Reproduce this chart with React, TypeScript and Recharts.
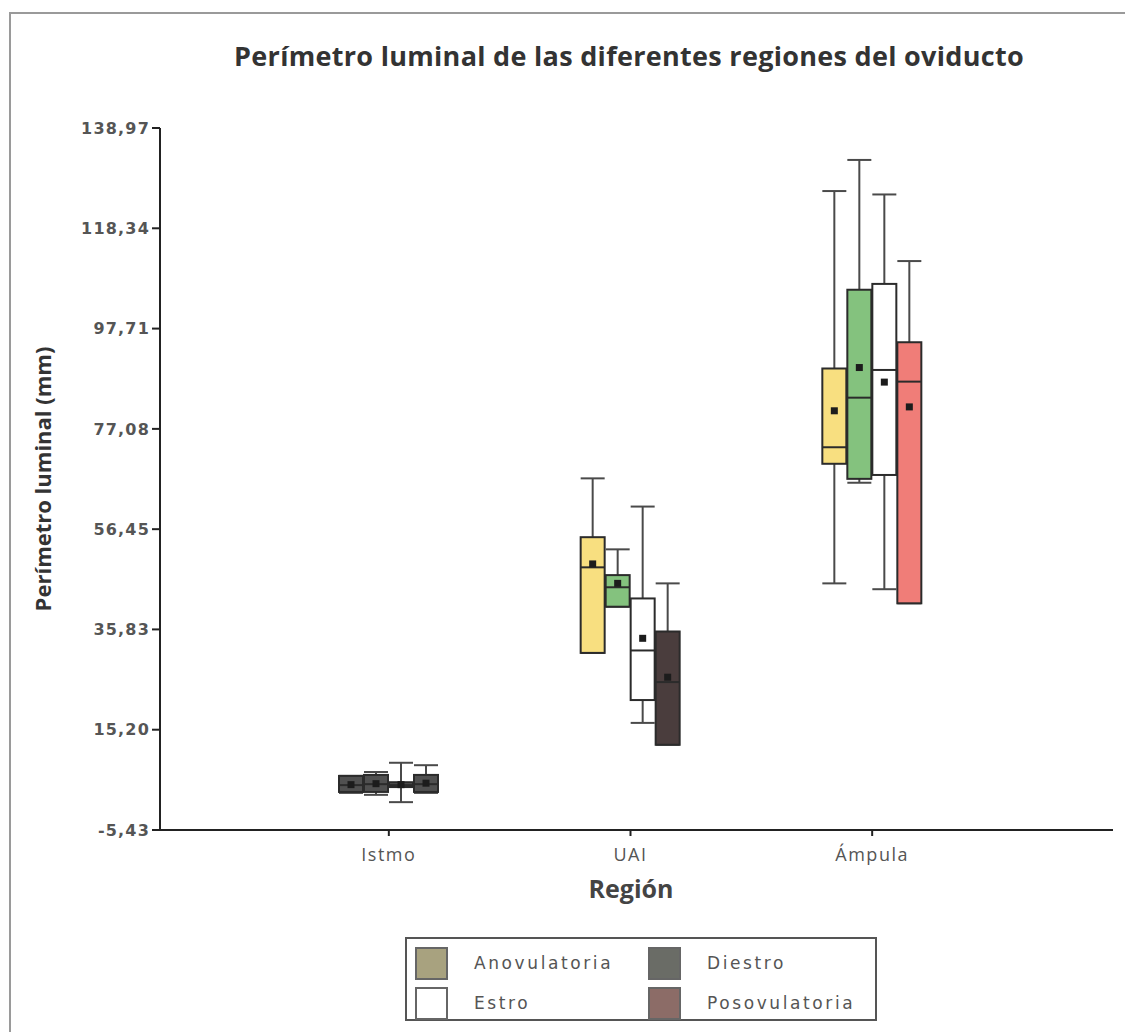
import { Bar, ComposedChart, XAxis, YAxis } from "recharts";

const regions = ["Istmo", "UAI", "Ámpula"];
const stages = ["Anovulatoria", "Diestro", "Estro", "Posovulatoria"];
const yTicks = [-5.43, 15.2, 35.83, 56.45, 77.08, 97.71, 118.34, 138.97];

// each row: [min, q1, median, q3, max, mean] for Istmo, UAI, Ámpula
const anovulatoria = [
  [2.2, 2.4, 3.8, 5.7, 5.7, 3.9],
  [31.0, 31.0, 48.6, 54.8, 66.9, 49.3],
  [45.3, 69.9, 73.3, 89.5, 126.0, 80.8],
];
const diestro = [
  [1.8, 2.4, 4.0, 5.9, 6.5, 4.1],
  [40.5, 40.5, 44.5, 47.0, 52.3, 45.3],
  [66.0, 66.8, 83.5, 105.7, 132.4, 89.7],
];
const estro = [
  [0.3, 3.4, 3.8, 4.4, 8.4, 3.9],
  [16.6, 21.3, 31.5, 42.2, 61.1, 34.0],
  [44.1, 67.6, 89.2, 106.9, 125.3, 86.7],
];
const posovulatoria = [
  [2.2, 2.4, 4.0, 5.9, 7.9, 4.2],
  [12.1, 12.1, 25.0, 35.4, 45.3, 26.0],
  [41.2, 41.2, 86.8, 94.9, 111.6, 81.6],
];

const stats: Record<string, number[][]> = {
  Anovulatoria: anovulatoria,
  Diestro: diestro,
  Estro: estro,
  Posovulatoria: posovulatoria,
};

// box fill per stage, by region (Istmo, UAI, Ámpula)
const boxFill: Record<string, string[]> = {
  Anovulatoria: ["#505050", "#f8df80", "#f8df80"],
  Diestro: ["#505050", "#84c27e", "#84c27e"],
  Estro: ["#505050", "#ffffff", "#ffffff"],
  Posovulatoria: ["#505050", "#4a3d3d", "#f07d78"],
};
const legendFill: Record<string, string> = {
  Anovulatoria: "#a8a27f",
  Diestro: "#6a6c66",
  Estro: "#ffffff",
  Posovulatoria: "#8c6c67",
};

const data = regions.map((region, i) => {
  const row: Record<string, unknown> = { region };
  stages.forEach((s) => {
    row[s] = stats[s][i];
  });
  return row;
});

const fmt = (v: number) => v.toFixed(2).replace(".", ",");

function BoxShape(props: any) {
  const { x, y, width, height, payload, stage } = props;
  const [mn, q1, med, q3, mx, mean] = payload[stage] as number[];
  const top = Math.min(y, y + height);
  const h = Math.abs(height);
  const py = (v: number) => top + ((mx - v) / (mx - mn)) * h;
  const cx = x + width / 2;
  const fill = boxFill[stage][regions.indexOf(payload.region)];
  const edge = "#2b2b2b";
  const wh = "#4a4a4a";
  return (
    <g>
      <line x1={cx} x2={cx} y1={py(mx)} y2={py(q3)} stroke={wh} strokeWidth={2} />
      <line x1={cx} x2={cx} y1={py(q1)} y2={py(mn)} stroke={wh} strokeWidth={2} />
      <line x1={x} x2={x + width} y1={py(mx)} y2={py(mx)} stroke={wh} strokeWidth={2} />
      <line x1={x} x2={x + width} y1={py(mn)} y2={py(mn)} stroke={wh} strokeWidth={2} />
      <rect
        x={x}
        y={py(q3)}
        width={width}
        height={Math.max(py(q1) - py(q3), 1)}
        fill={fill}
        stroke={edge}
        strokeWidth={2}
      />
      <line x1={x} x2={x + width} y1={py(med)} y2={py(med)} stroke={edge} strokeWidth={2} />
      <rect x={cx - 3.5} y={py(mean) - 3.5} width={7} height={7} fill="#1c1c1c" />
    </g>
  );
}

function LegendBox() {
  return (
    <div
      style={{
        position: "absolute",
        left: 405,
        top: 937,
        width: 472,
        height: 84,
        border: "2px solid #555",
        boxSizing: "border-box",
        paddingTop: 4,
        display: "grid",
        gridTemplateColumns: "233px 233px",
        gridTemplateRows: "40px 40px",
        fontFamily: "DejaVu Sans",
        fontSize: 17,
        letterSpacing: 2.6,
        color: "#555",
      }}
    >
      {stages.map((s) => (
        <div key={s} style={{ display: "flex", alignItems: "center", paddingLeft: 8 }}>
          <div
            style={{
              width: 33,
              height: 33,
              background: legendFill[s],
              border: "2px solid #666",
              boxSizing: "border-box",
              marginRight: 26,
            }}
          />
          <span>{s}</span>
        </div>
      ))}
    </div>
  );
}

export default function App() {
  return (
    <div
      style={{
        position: "fixed",
        left: 0,
        top: 0,
        width: 1125,
        height: 1032,
        overflow: "hidden",
        background: "#fff",
      }}
    >
      <div
        style={{
          position: "absolute",
          left: 9,
          top: 12,
          width: 1300,
          height: 1100,
          borderLeft: "2px solid #9a9a9a",
          borderTop: "2px solid #9a9a9a",
        }}
      />
      <div
        style={{
          position: "absolute",
          left: 129,
          top: 37,
          width: 1000,
          textAlign: "center",
          fontFamily: "Open Sans",
          fontWeight: 700,
          fontSize: 27,
          letterSpacing: 0.3,
          color: "#333",
        }}
      >
        Perímetro luminal de las diferentes regiones del oviducto
      </div>
      <div style={{ position: "absolute", left: 0, top: 0 }}>
        <ComposedChart
          width={1125}
          height={1032}
          data={data}
          margin={{ top: 128, right: 12, bottom: 172, left: 0 }}
          barSize={24}
          barGap={1}
        >
          <XAxis
            dataKey="region"
            height={30}
            padding={{ left: 108, right: 120 }}
            tick={{ fill: "#555", fontSize: 18, fontFamily: "Open Sans", letterSpacing: 1.5 }}
            tickSize={6}
            tickMargin={12}
            axisLine={{ stroke: "#222", strokeWidth: 2 }}
            tickLine={{ stroke: "#222", strokeWidth: 2 }}
            label={{
              content: () => (
                <text
                  x={631}
                  y={898}
                  textAnchor="middle"
                  fontFamily="Open Sans"
                  fontWeight={700}
                  fontSize={25}
                  fill="#444"
                >
                  Región
                </text>
              ),
            }}
          />
          <YAxis
            type="number"
            width={160}
            domain={[-5.43, 138.97]}
            ticks={yTicks}
            tickFormatter={fmt}
            tick={{
              fill: "#555",
              fontSize: 16,
              fontWeight: 700,
              fontFamily: "DejaVu Sans",
              letterSpacing: 1.2,
            }}
            tickSize={8}
            axisLine={{ stroke: "#222", strokeWidth: 2 }}
            tickLine={{ stroke: "#222", strokeWidth: 2 }}
            label={{
              content: () => (
                <text
                  x={42}
                  y={479}
                  transform="rotate(-90 42 479)"
                  textAnchor="middle"
                  dominantBaseline="central"
                  fontFamily="Open Sans"
                  fontWeight={700}
                  fontSize={22}
                  fill="#333"
                >
                  Perímetro luminal (mm)
                </text>
              ),
            }}
          />
          {stages.map((s) => (
            <Bar
              key={s}
              name={s}
              dataKey={(d: any) => [d[s][0], d[s][4]]}
              isAnimationActive={false}
              shape={(p: any) => <BoxShape {...p} stage={s} />}
            />
          ))}
        </ComposedChart>
      </div>
      <LegendBox />
    </div>
  );
}
